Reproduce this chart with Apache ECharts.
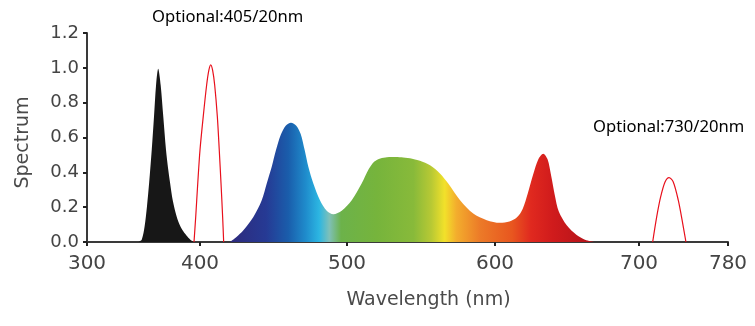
<!DOCTYPE html>
<html>
<head>
<meta charset="utf-8">
<script src="https://cdn.jsdelivr.net/npm/echarts@6/dist/echarts.min.js"></script>
<style>
  html, body { margin: 0; padding: 0; background: #ffffff; }
  #chart { width: 755px; height: 326px; }
</style>
</head>
<body>
<div id="chart"></div>
<script>
// ---------- data (wavelength nm, relative spectrum) ----------
const tickWavelengths = [300, 400, 500, 600, 700, 780];
const yTicks = [0, 0.2, 0.4, 0.6, 0.8, 1.0, 1.2];

const uvPeak = [
  [345.5, 0], [348.5, 0.015], [351, 0.09], [353, 0.2], [355, 0.34], [357.3, 0.53],
  [359.3, 0.72], [361.1, 0.9], [363, 0.995], [365.2, 0.9], [367.5, 0.72], [369.9, 0.53],
  [371.8, 0.42], [373.5, 0.34], [376, 0.235], [379.4, 0.145], [382.3, 0.095],
  [385.2, 0.062], [389, 0.03], [392, 0.01], [394.5, 0]
];

const optional405 = [
  [394.7, 0], [396.2, 0.144], [398.0, 0.336], [400, 0.528], [402.2, 0.72],
  [404.5, 0.9], [406, 0.985], [407.3, 1.017], [408.6, 0.985], [410, 0.9], [411.8, 0.72],
  [413.1, 0.528], [414.3, 0.336], [415.4, 0.144], [416.1, 0]
];

const visibleSpectrum = [
  [420.4, 0], [425, 0.03], [429.5, 0.067], [436.3, 0.144], [442.0, 0.24], [445.4, 0.336],
  [448.8, 0.432], [451.7, 0.528], [454.9, 0.615], [458.3, 0.668], [461.9, 0.685],
  [465.5, 0.668], [468.5, 0.62], [471.2, 0.528], [473.7, 0.432], [477.1, 0.336],
  [481.6, 0.24], [486.2, 0.18], [490.7, 0.16], [496.4, 0.18], [503.2, 0.24],
  [509.9, 0.336], [514.8, 0.42], [518.5, 0.462], [522.5, 0.48], [527, 0.487],
  [533, 0.488], [538.0, 0.485], [544, 0.478], [549.3, 0.466], [556.1, 0.44],
  [562.8, 0.394], [568.4, 0.336], [576.4, 0.24], [585.3, 0.163], [594.4, 0.125],
  [603.5, 0.11], [610, 0.118], [615.1, 0.14], [619.2, 0.19], [622.8, 0.28],
  [626.6, 0.39], [630.1, 0.475], [633.5, 0.507], [636.5, 0.475], [639, 0.38],
  [641.5, 0.27], [644.3, 0.175], [649.8, 0.096], [656.7, 0.04], [662.5, 0.013], [669, 0]
];

const optional730 = [
  [712.3, 0], [715.9, 0.144], [719.5, 0.26], [723.4, 0.345], [727.0, 0.37],
  [730.8, 0.345], [735.3, 0.24], [739.3, 0.106], [742.2, 0]
];

// ---------- layout: the printed axis is not linear; tick spacing in px ----------
const AXIS_KNOTS = [0, 113, 260, 408, 552, 641];
function warp(w) {
  const t = tickWavelengths;
  for (let i = 0; i < t.length - 1; i++) {
    if (w <= t[i + 1] || i === t.length - 2) {
      return AXIS_KNOTS[i] + (w - t[i]) / (t[i + 1] - t[i]) * (AXIS_KNOTS[i + 1] - AXIS_KNOTS[i]);
    }
  }
}
const toXY = arr => arr.map(([w, v]) => [warp(w), v]);

// spectrum colour stops (by wavelength)
const spectrumColours = [
  [420, '#2e2a7c'], [445, '#263a94'], [460, '#1a5dab'], [472, '#1f8ccc'],
  [481, '#2cb6e2'], [488, '#7fc0b8'], [496, '#6cb24a'], [520, '#76b43c'],
  [545, '#88ba3a'], [557, '#b8c934'], [566, '#f2e12a'], [574, '#f3ad2d'],
  [590, '#ec7a28'], [612, '#e8561f'], [625, '#e0291f'], [640, '#d01b1c'], [662, '#b8141a']
];
const sStart = warp(visibleSpectrum[0][0]);
const sEnd = warp(visibleSpectrum[visibleSpectrum.length - 1][0]);
const gradStops = spectrumColours.map(([w, c]) => ({
  offset: Math.min(1, Math.max(0, (warp(w) - sStart) / (sEnd - sStart))),
  color: c
}));

const chart = echarts.init(document.getElementById('chart'), null, { renderer: 'canvas' });
const axisFont = 'DejaVu Sans';
chart.setOption({
  animation: false,
  backgroundColor: '#ffffff',
  grid: { left: 87, right: 27, top: 33, bottom: 84, containLabel: false },
  xAxis: {
    type: 'value',
    min: 0,
    max: AXIS_KNOTS[AXIS_KNOTS.length - 1],
    name: 'Wavelength (nm)',
    nameLocation: 'middle',
    nameGap: 49,
    nameTextStyle: { fontFamily: axisFont, fontSize: 19, color: '#4a4a4a', padding: [0, 0, 0, 42] },
    axisLine: { show: true, lineStyle: { color: '#3a3a3a', width: 2 } },
    axisTick: { show: true, length: 4, lineStyle: { color: '#222', width: 2 }, customValues: AXIS_KNOTS },
    axisLabel: {
      customValues: AXIS_KNOTS,
      margin: 12,
      fontFamily: axisFont, fontSize: 20, color: '#444444',
      formatter: v => {
        let best = 0;
        AXIS_KNOTS.forEach((k, i) => { if (Math.abs(k - v) < Math.abs(AXIS_KNOTS[best] - v)) best = i; });
        return String(tickWavelengths[best]);
      }
    },
    splitLine: { show: false }
  },
  yAxis: {
    type: 'value',
    min: yTicks[0],
    max: yTicks[yTicks.length - 1],
    interval: 0.2,
    name: 'Spectrum',
    nameLocation: 'middle',
    nameRotate: 90,
    nameGap: 54,
    nameTextStyle: { fontFamily: axisFont, fontSize: 19, color: '#4a4a4a', padding: [0, 10, 0, 0] },
    axisLine: { show: true, lineStyle: { color: '#3a3a3a', width: 2 } },
    axisTick: { show: true, length: 4, lineStyle: { color: '#222', width: 2 } },
    axisLabel: {
      margin: 8,
      fontFamily: axisFont, fontSize: 18, color: '#444444',
      formatter: v => v.toFixed(1)
    },
    splitLine: { show: false }
  },
  series: [
    {
      type: 'line', data: toXY(uvPeak), smooth: 0.3, showSymbol: false, silent: true,
      lineStyle: { width: 0 },
      areaStyle: { color: '#171717', opacity: 1 },
      z: 2
    },
    {
      type: 'line', data: toXY(visibleSpectrum), smooth: 0.3, showSymbol: false, silent: true,
      lineStyle: { width: 0 },
      areaStyle: {
        opacity: 1,
        color: new echarts.graphic.LinearGradient(0, 0, 1, 0, gradStops)
      },
      z: 2
    },
    {
      type: 'line', data: toXY(optional405), smooth: 0.3, showSymbol: false, silent: true,
      lineStyle: { color: '#e8101c', width: 1.2 }, z: 3
    },
    {
      type: 'line', data: toXY(optional730), smooth: 0.3, showSymbol: false, silent: true,
      lineStyle: { color: '#e8101c', width: 1.2 }, z: 3
    }
  ],
  graphic: [
    {
      type: 'text', left: 152, top: 9, z: 10,
      style: { text: 'Optional:405/20nm', fontFamily: 'Noto Sans', fontSize: 16.6, fill: '#000000' }
    },
    {
      type: 'text', left: 593, top: 119, z: 10,
      style: { text: 'Optional:730/20nm', fontFamily: 'Noto Sans', fontSize: 16.6, fill: '#000000' }
    }
  ]
});
</script>
</body>
</html>
